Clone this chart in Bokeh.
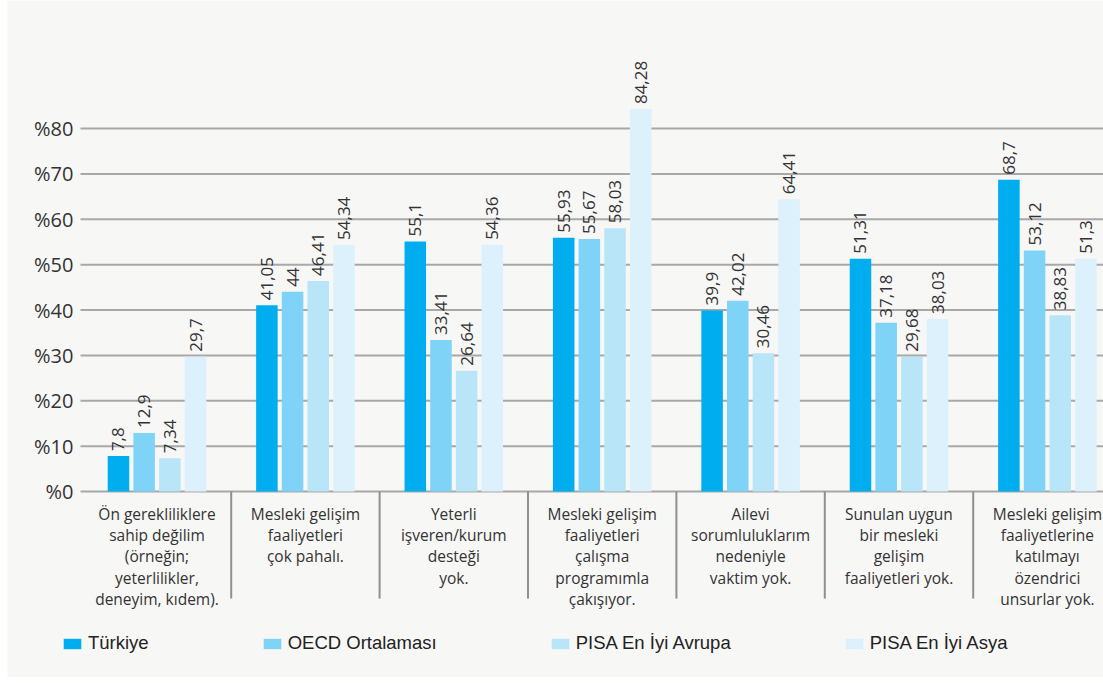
import math

from bokeh.core.properties import value
from bokeh.embed import file_html
from bokeh.layouts import row
from bokeh.models import ColumnDataSource, Range1d, Spacer
from bokeh.plotting import figure
from bokeh.resources import INLINE

# Reasons for not taking part in professional development (%)
categories = [
    "Ön gerekliliklere\nsahip değilim\n(örneğin;\nyeterlilikler,\ndeneyim, kıdem).",
    "Mesleki gelişim\nfaaliyetleri\nçok pahalı.",
    "Yeterli\nişveren/kurum\ndesteği\nyok.",
    "Mesleki gelişim\nfaaliyetleri\nçalışma\nprogramımla\nçakışıyor.",
    "Ailevi\nsorumluluklarım\nnedeniyle\nvaktim yok.",
    "Sunulan uygun\nbir mesleki\ngelişim\nfaaliyetleri yok.",
    "Mesleki gelişim\nfaaliyetlerine\nkatılmayı\nözendrici\nunsurlar yok.",
]

series_names = ["Türkiye", "OECD Ortalaması", "PISA En İyi Avrupa", "PISA En İyi Asya"]
turkiye = [7.8, 41.05, 55.1, 55.93, 39.9, 51.31, 68.7]
oecd = [12.9, 44, 33.41, 55.67, 42.02, 37.18, 53.12]
pisa_avrupa = [7.34, 46.41, 26.64, 58.03, 30.46, 29.68, 38.83]
pisa_asya = [29.7, 54.34, 54.36, 84.28, 64.41, 38.03, 51.3]

y_ticks = [0, 10, 20, 30, 40, 50, 60, 70, 80]
y_tick_labels = ["%" + str(t) for t in y_ticks]

series_values = [turkiye, oecd, pisa_avrupa, pisa_asya]
colors = ["#00aeef", "#7fd3f6", "#b9e5f8", "#dcf1fb"]

CARD = "#f7f7f6"
TEXT = "#333333"
FONT = "Open Sans"

X0, X1 = -1.0074, 6.378
Y0, Y1 = -40.99, 108.21
PLOT_LEFT = -0.5155      # where the value grid starts
LABEL_X = -0.5627        # right edge of the percent labels
SEP_BOTTOM = -23.6       # lower end of the category separators

p = figure(
    width=1096,
    height=677,
    x_range=Range1d(X0, X1),
    y_range=Range1d(Y0, Y1),
    output_backend="svg",
    toolbar_location=None,
    min_border=0,
    background_fill_color=CARD,
    border_fill_color=CARD,
    outline_line_color=None,
)
p.axis.visible = False
p.grid.visible = False

# horizontal value grid (the 0 line is the category baseline)
p.segment(x0=[PLOT_LEFT] * len(y_ticks), y0=y_ticks, x1=[X1] * len(y_ticks), y1=y_ticks,
          line_color="#a8a8a8", line_width=2)
p.text(x=[LABEL_X] * len(y_ticks), y=y_ticks, text=y_tick_labels,
       text_align="right", text_baseline="middle",
       text_font=value(FONT), text_font_size="20px", text_color=TEXT)

bar_pitch = 0.173
bar_width = 0.145

for j, (name, vals, col) in enumerate(zip(series_names, series_values, colors)):
    xs = [i + (j - 1.5) * bar_pitch for i in range(len(categories))]
    labels = [f"{v:g}".replace(".", ",") for v in vals]
    src = ColumnDataSource(dict(x=xs, top=vals, label=labels))
    p.vbar(x="x", top="top", width=bar_width, source=src, fill_color=col,
           line_color=None, legend_label=name)
    p.text(x="x", y="top", text="label", source=src, angle=math.pi / 2,
           text_align="left", text_baseline="middle", y_offset=-5,
           text_font=value(FONT), text_font_size="17px", text_color=TEXT)

# category separators under the baseline
sep_x = [i + 0.5 for i in range(len(categories) - 1)]
p.segment(x0=sep_x, y0=[0] * len(sep_x), x1=sep_x, y1=[SEP_BOTTOM] * len(sep_x),
          line_color="#8f8f8f", line_width=2)

# category labels
p.text(x=list(range(len(categories))), y=[0] * len(categories), text=categories,
       text_align="center", text_baseline="top", y_offset=11,
       text_font=value(FONT), text_font_size="15.5px", text_color=TEXT,
       text_line_height=0.97)

lg = p.legend[0]
lg.orientation = "horizontal"
lg.location = (54, 23)
lg.background_fill_alpha = 0
lg.border_line_color = None
lg.padding = 0
lg.margin = 0
lg.spacing = 112
lg.glyph_width = 22
lg.glyph_height = 13
lg.label_standoff = 5
lg.label_height = 13
lg.label_text_font = "Liberation Sans"
lg.label_text_font_size = "18.5px"
lg.label_text_color = "#222222"

layout = row(Spacer(width=7, height=677), p)

open("out.html", "w").write(file_html(layout, INLINE))
